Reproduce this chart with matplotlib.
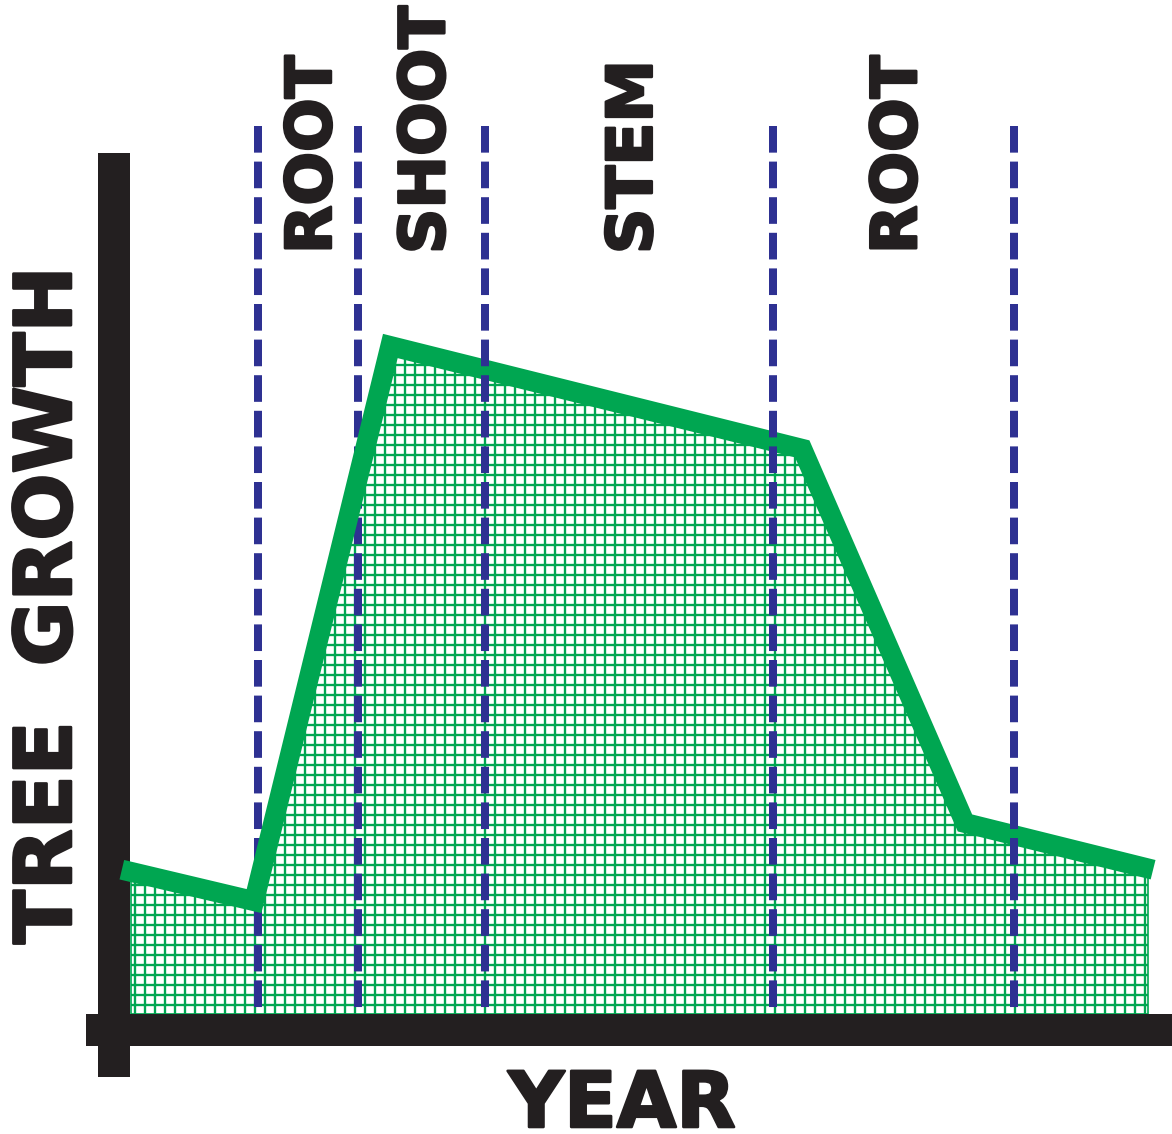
import numpy as np
import matplotlib
matplotlib.use("Agg")
import matplotlib.pyplot as plt
import matplotlib.patheffects as pe

# ---------------- data ----------------
years = [-0.09, 1.21, 2.55, 6.60, 8.20, 10.05]       # x of growth curve vertices
growth = [21.6, 16.9, 100.0, 84.6, 28.6, 21.6]       # tree growth values
fill_start, fill_end = 0.0, 10.0                     # hatched area extent (years)
boundaries = [1.25, 2.23, 3.48, 6.31, 8.68]          # phase boundaries (years)
phase_labels = ["ROOT", "SHOOT", "STEM", "ROOT"]
boundary_top = 132.9
x_label = "YEAR"
y_label = "TREE  GROWTH"

# ---------------- layout (pixels) ----------------
W, H, DPI = 1172, 1134, 120
PX_X0, PX_PER_YEAR = 131.0, 101.7     # pixel x of year 0, pixels per year
PX_Y0, PX_PER_UNIT = 1014.0, 6.68     # pixel y of growth 0, pixels per unit
px2pt = 72.0 / DPI

def dx(px):
    return (px - PX_X0) / PX_PER_YEAR

def dy(py):
    return (PX_Y0 - py) / PX_PER_UNIT

GREEN = "#00a651"
BLUE = "#2e3192"
BLACK = "#231f20"
heavy = [pe.withStroke(linewidth=2.6 * px2pt, foreground=BLACK)]

plt.rcParams["hatch.linewidth"] = 1.4
fig = plt.figure(figsize=(W / DPI, H / DPI), dpi=DPI)
ax = fig.add_axes([0, 0, 1, 1])
ax.set_xlim(dx(0), dx(W))
ax.set_ylim(dy(H), dy(0))
ax.axis("off")

# hatched area under the curve
xf = np.concatenate([[fill_start], [x for x in years if fill_start < x < fill_end], [fill_end]])
yf = np.interp(xf, years, growth)
ax.fill_between(xf, 0, yf, facecolor="white", edgecolor=GREEN, hatch="++",
                linewidth=1.0, zorder=1)

# dashed phase boundaries
top_flags = [False, False, True, True, True]
for b, on_top in zip(boundaries, top_flags):
    ax.plot([b, b], [boundary_top, 0], color=BLUE, linewidth=8 * px2pt,
            dashes=(3.33, 1.12), solid_capstyle="butt", dash_capstyle="butt",
            zorder=4 if on_top else 2)

# axes bars
ax.plot([dx(114), dx(114)], [dy(153), dy(1077)], color=BLACK,
        linewidth=32 * px2pt, solid_capstyle="butt", zorder=2.5, clip_on=False)
ax.plot([dx(86), dx(W)], [dy(1030), dy(1030)], color=BLACK,
        linewidth=32 * px2pt, solid_capstyle="butt", zorder=5, clip_on=False)

# growth curve
ax.plot(years, growth, color=GREEN, linewidth=20 * px2pt,
        solid_joinstyle="miter", solid_capstyle="butt", zorder=3)

# phase labels (rotated, centred between boundaries)
lab_px = 63
cap = 0.729 * lab_px * px2pt
for i, lab in enumerate(phase_labels):
    mid = (boundaries[i] + boundaries[i + 1]) / 2
    ax.annotate(lab, xy=(mid, dy(254)), xytext=(cap / 2, 0), textcoords="offset points",
                rotation=90, rotation_mode="anchor", ha="left", va="baseline",
                fontsize=lab_px * px2pt, fontweight="bold", family="DejaVu Sans",
                color=BLACK, zorder=6, path_effects=heavy)

# axis titles
ax.text(dx(622), dy(1127), x_label, ha="center", va="baseline",
        fontsize=77 * px2pt, fontweight="bold", family="DejaVu Sans", color=BLACK,
        path_effects=heavy)
ax.annotate(y_label, xy=(dx(71), dy(944)), rotation=90, rotation_mode="anchor",
            ha="left", va="baseline", fontsize=79 * px2pt, fontweight="bold",
            family="DejaVu Sans", color=BLACK, path_effects=heavy)

fig.savefig("out.png", dpi=DPI, facecolor="white")
